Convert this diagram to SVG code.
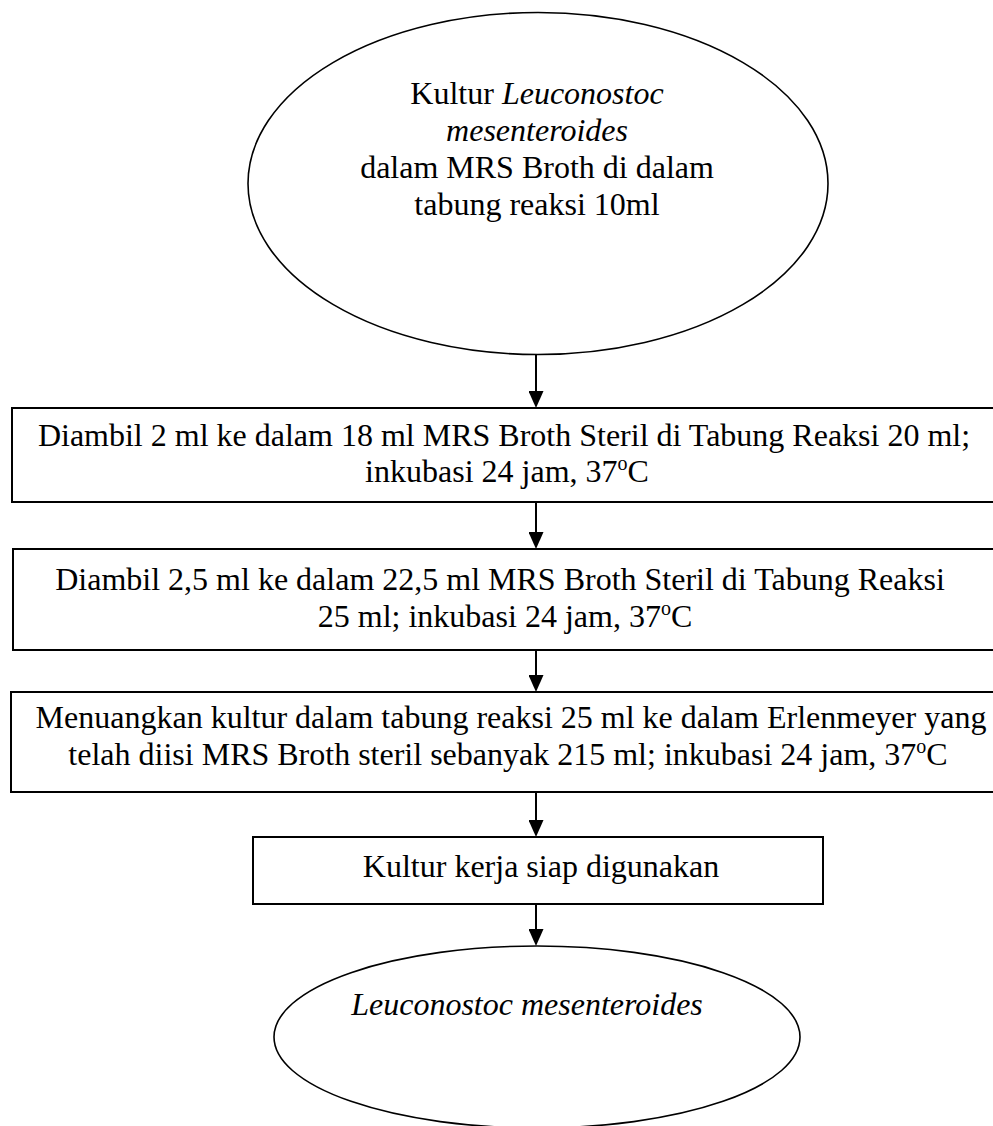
<svg xmlns="http://www.w3.org/2000/svg" width="993" height="1126" viewBox="0 0 993 1126">
<defs>
<style>
.t{font-family:"Liberation Serif","Times New Roman",serif;font-size:32px;fill:#000;}
.c{text-anchor:middle;}
.i{font-style:italic;}
.box{fill:#fff;stroke:#000;stroke-width:2;}
.ell{fill:#fff;stroke:#000;stroke-width:1.6;}
.edge{stroke:#000;stroke-width:2;fill:none;marker-end:url(#ah);}
</style>
<marker id="ah" markerUnits="userSpaceOnUse" markerWidth="17" markerHeight="15" refX="9" refY="7.5" orient="auto" viewBox="0 0 17 15">
<path d="M0,0 L17,7.5 L0,15 Z" fill="#000"/>
</marker>
</defs>
<rect width="993" height="1126" fill="#fff"/>
<g id="node-start">
<ellipse class="ell" cx="538" cy="183.5" rx="290" ry="171"/>
<text class="t c" x="537" y="104">Kultur <tspan class="i">Leuconostoc</tspan></text>
<text class="t c i" x="537" y="141">mesenteroides</text>
<text class="t c" x="537" y="178">dalam MRS Broth di dalam</text>
<text class="t c" x="537" y="215">tabung reaksi 10ml</text>
</g>
<g id="node-step1">
<rect class="box" x="12" y="408" width="990" height="94"/>
<text class="t c" x="504" y="446">Diambil 2 ml ke dalam 18 ml MRS Broth Steril di Tabung Reaksi 20 ml;</text>
<text class="t c" x="507" y="482">inkubasi 24 jam, 37<tspan font-size="20" dy="-12">o</tspan><tspan dy="12">C</tspan></text>
</g>
<g id="node-step2">
<rect class="box" x="13" y="549" width="990" height="101"/>
<text class="t c" x="500" y="590">Diambil 2,5 ml ke dalam 22,5 ml MRS Broth Steril di Tabung Reaksi</text>
<text class="t c" x="505" y="627">25 ml; inkubasi 24 jam, 37<tspan font-size="20" dy="-12">o</tspan><tspan dy="12">C</tspan></text>
</g>
<g id="node-step3">
<rect class="box" x="11" y="692" width="990" height="100"/>
<text class="t c" x="511" y="728">Menuangkan kultur dalam tabung reaksi 25 ml ke dalam Erlenmeyer yang</text>
<text class="t c" x="508" y="765">telah diisi MRS Broth steril sebanyak 215 ml; inkubasi 24 jam, 37<tspan font-size="20" dy="-12">o</tspan><tspan dy="12">C</tspan></text>
</g>
<g id="node-step4">
<rect class="box" x="253" y="837" width="570" height="67"/>
<text class="t c" x="541" y="877">Kultur kerja siap digunakan</text>
</g>
<g id="node-end">
<ellipse class="ell" cx="537" cy="1037" rx="263" ry="91"/>
<text class="t c i" x="527" y="1015">Leuconostoc mesenteroides</text>
</g>
<g id="connectors">
<line class="edge" x1="536" y1="355" x2="536" y2="400"/>
<line class="edge" x1="536" y1="502" x2="536" y2="541"/>
<line class="edge" x1="536" y1="650" x2="536" y2="684"/>
<line class="edge" x1="536" y1="792" x2="536" y2="829"/>
<line class="edge" x1="536" y1="904" x2="536" y2="938"/>
</g>
</svg>
